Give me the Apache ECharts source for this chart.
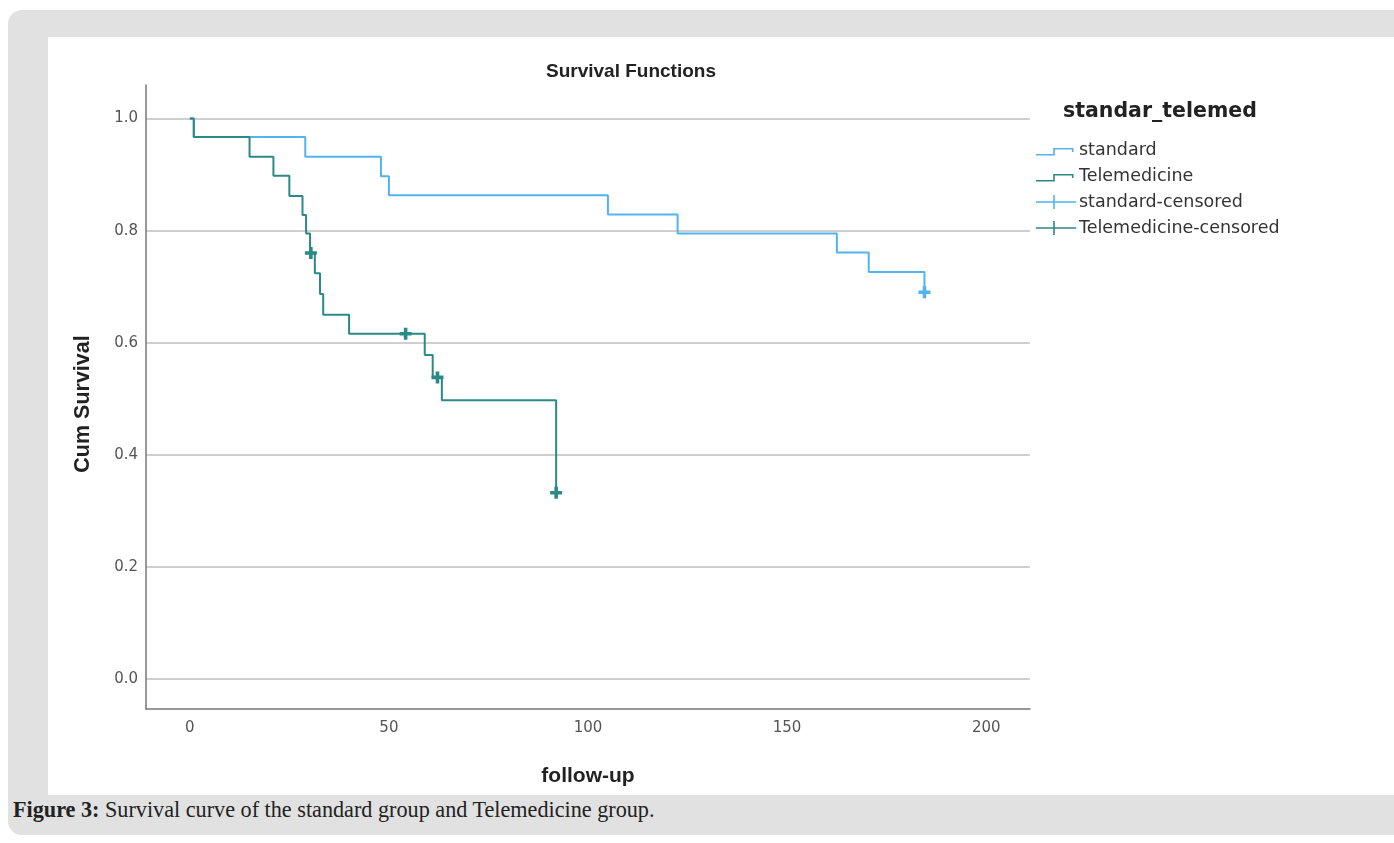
<!DOCTYPE html>
<html>
<head>
<meta charset="utf-8">
<script src="https://cdn.jsdelivr.net/npm/echarts@6/dist/echarts.min.js"></script>
<style>
  html, body { margin: 0; padding: 0; width: 1394px; height: 843px; overflow: hidden; background: #fff; }
  #frame { position: absolute; left: 8px; top: 10px; width: 1420px; height: 825px; background: #e1e1e1; border-radius: 14px; }
  #chart { position: absolute; left: 48px; top: 37px; width: 1346px; height: 758px; background: #fff; }
  #caption { position: absolute; left: 13px; top: 797px; font-family: "Liberation Serif", serif; font-size: 22.2px; color: #222; white-space: nowrap; }
</style>
</head>
<body>
<div id="frame"></div>
<div id="chart"></div>
<div id="caption"><b>Figure 3:</b> Survival curve of the standard group and Telemedicine group.</div>
<script>
  // Kaplan-Meier steps: [time, cum survival]
  var standardSteps = [[0, 1.0], [1, 0.967], [29, 0.932], [48, 0.897], [50, 0.863], [105, 0.829],
    [122.5, 0.795], [162.5, 0.761], [170.5, 0.726], [184.5, 0.690]];
  var telemedSteps = [[0, 1.0], [1, 0.967], [15, 0.932], [21, 0.898], [25, 0.862], [28.3, 0.828],
    [29.2, 0.795], [30.2, 0.760], [31.4, 0.724], [32.7, 0.687], [33.5, 0.650], [40, 0.616],
    [59, 0.578], [61, 0.538], [63.3, 0.497], [92, 0.332]];
  var standardCensored = [[184.5, 0.690]];
  var telemedCensored = [[30.4, 0.760], [54.2, 0.616], [62.2, 0.538], [92, 0.332]];
  var xTicks = [0, 50, 100, 150, 200];
  var yTicks = [0, 0.2, 0.4, 0.6, 0.8, 1.0];

  var blue = '#52b3ee';
  var teal = '#2b8a85';
  var wide = '"DejaVu Sans", Verdana, sans-serif';
  // legend icons in a 40x14 box (the tiny corner squares fix the box)
  var box = 'M0,0h0.01v0.01h-0.01Z M40,14h-0.01v-0.01h0.01Z ';
  var stepIcon = 'path://' + box + 'M0,10.9H17.2V5H37.5V9H35.9V6.6H18.8V12.5H0Z';
  var plusIcon = 'path://' + box + 'M0,6.2H17.2V0H18.8V6.2H40V7.8H18.8V14H17.2V7.8H0Z';
  var plusMark = 'path://M3.5,0H6.5V3.5H10V6.5H6.5V10H3.5V6.5H0V3.5H3.5Z';

  var myChart = echarts.init(document.getElementById('chart'));
  myChart.setOption({
    animation: false,
    textStyle: { fontFamily: '"Liberation Sans", Arial, sans-serif' },
    title: {
      text: 'Survival Functions',
      left: 493,
      top: 20,
      textStyle: { fontSize: 19, fontWeight: 'bold', color: '#222' }
    },
    graphic: [{
      type: 'text',
      x: 1015,
      y: 75,
      style: { text: 'standar_telemed', fontSize: 20.5, fontWeight: 'bold', fill: '#222', fontFamily: wide, verticalAlign: 'middle' }
    }],
    legend: {
      orient: 'vertical',
      left: 988,
      top: 104,
      padding: 0,
      itemWidth: 40,
      itemHeight: 14,
      itemGap: 8,
      textStyle: { fontSize: 17.5, color: '#333', fontFamily: wide, padding: [0, 0, 0, -2] },
      data: [
        { name: 'standard', icon: stepIcon },
        { name: 'Telemedicine', icon: stepIcon },
        { name: 'standard-censored', icon: plusIcon },
        { name: 'Telemedicine-censored', icon: plusIcon }
      ]
    },
    grid: { left: 98, right: 364, top: 48, bottom: 86 },
    xAxis: {
      type: 'value',
      min: -11,
      max: 211,
      name: 'follow-up',
      nameLocation: 'middle',
      nameGap: 57,
      nameTextStyle: { fontSize: 21, fontWeight: 'bold', color: '#222' },
      axisLine: { onZero: false, lineStyle: { color: '#777', width: 1.5 } },
      axisTick: { show: false, customValues: xTicks },
      axisLabel: { customValues: xTicks, margin: 12, fontSize: 15, color: '#555', fontFamily: wide },
      splitLine: { show: false }
    },
    yAxis: {
      type: 'value',
      min: -0.054,
      max: 1.06,
      name: 'Cum Survival',
      nameLocation: 'middle',
      nameGap: 52,
      nameTextStyle: { fontSize: 21.5, fontWeight: 'bold', color: '#222', padding: [0, 14, 0, 0] },
      axisLine: { show: true, onZero: false, lineStyle: { color: '#777', width: 1.5 } },
      axisTick: { show: false, customValues: yTicks },
      axisLabel: {
        customValues: yTicks, margin: 8, fontSize: 15, color: '#555', fontFamily: wide,
        formatter: function (v) { return v.toFixed(1); }
      },
      splitLine: { show: true, lineStyle: { color: '#cfcfcf', width: 2 } }
    },
    series: [
      {
        name: 'standard',
        type: 'line',
        step: 'end',
        showSymbol: false,
        color: blue,
        lineStyle: { width: 2 },
        data: standardSteps
      },
      {
        name: 'Telemedicine',
        type: 'line',
        step: 'end',
        showSymbol: false,
        color: teal,
        lineStyle: { width: 2 },
        data: telemedSteps
      },
      {
        name: 'standard-censored',
        type: 'scatter',
        symbol: plusMark,
        symbolSize: 12,
        color: blue,
        itemStyle: { opacity: 1 },
        data: standardCensored
      },
      {
        name: 'Telemedicine-censored',
        type: 'scatter',
        symbol: plusMark,
        symbolSize: 12,
        color: teal,
        itemStyle: { opacity: 1 },
        data: telemedCensored
      }
    ]
  });
</script>
</body>
</html>
